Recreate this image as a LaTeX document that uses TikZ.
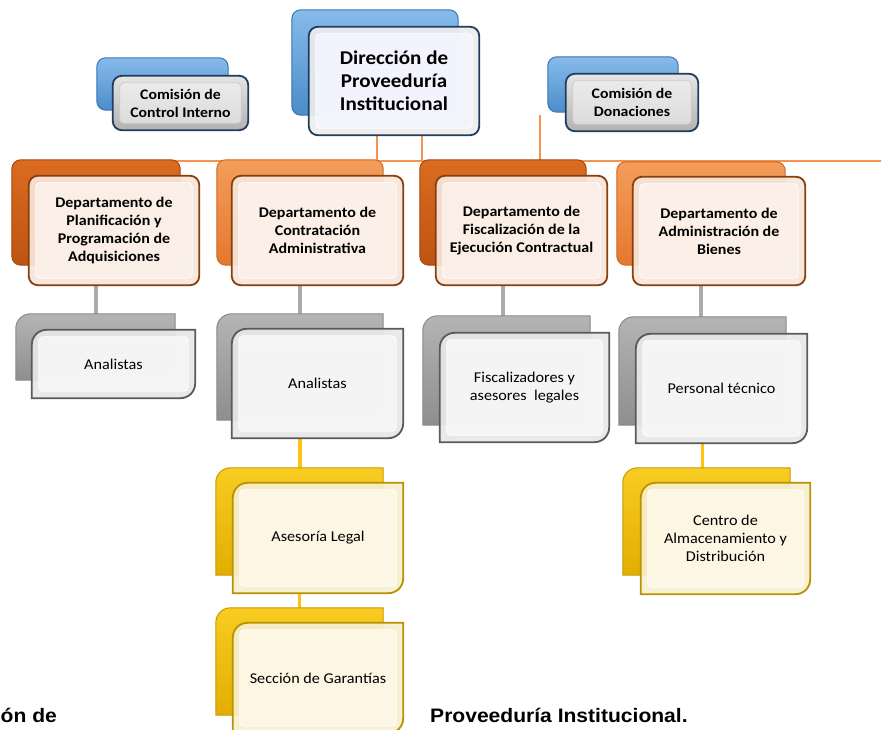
\documentclass[tikz,border=0pt]{standalone}
\usepackage{fontspec}
\setmainfont{Carlito}[FakeStretch=1.08]
\newfontfamily\arialfont{Liberation Sans}[FakeStretch=1.08]
\usetikzlibrary{calc}
\pgfdeclarelayer{bglayer}
\pgfdeclarelayer{lineslayer}
\pgfdeclarelayer{backlayer}
\pgfdeclarelayer{frontlayer}
\pgfsetlayers{bglayer,lineslayer,backlayer,frontlayer,main}

\definecolor{blueT}{HTML}{86BBEA}
\definecolor{blueB}{HTML}{4B8CCB}
\definecolor{blueD}{HTML}{3A74AE}
\definecolor{navy}{HTML}{213D5E}
\definecolor{orDT}{HTML}{DB6B20}
\definecolor{orDB}{HTML}{BD5412}
\definecolor{orDD}{HTML}{A4470D}
\definecolor{orLT}{HTML}{F49D5A}
\definecolor{orLB}{HTML}{E47830}
\definecolor{orLD}{HTML}{CF6824}
\definecolor{brown}{HTML}{85400F}
\definecolor{orline}{HTML}{F5934F}
\definecolor{gyT}{HTML}{B4B4B4}
\definecolor{gyB}{HTML}{8E8E8E}
\definecolor{gyD}{HTML}{8A8A8A}
\definecolor{gyEdge}{HTML}{5A5A5A}
\definecolor{gyline}{HTML}{ABABAB}
\definecolor{ylT}{HTML}{F8CC22}
\definecolor{ylB}{HTML}{E2AE00}
\definecolor{ylD}{HTML}{C99A00}
\definecolor{ylEdge}{HTML}{B89200}
\definecolor{ylline}{HTML}{FFC20E}
\definecolor{orFill}{HTML}{F8E6DA}
\definecolor{orIn}{HTML}{FCF1EA}
\definecolor{ylFill}{HTML}{F7EFCF}
\definecolor{ylIn}{HTML}{FDF8E6}

\newcommand\roundpath[2]{\path[rounded corners=9pt,#2] (#1.south west) rectangle (#1.north east);}
\newcommand\diagpath[2]{\path[#2] (#1.south west) -- ($(#1.north west)+(0,15)$) .. controls ($(#1.north west)+(0,6.5)$) and ($(#1.north west)+(6.5,0)$) .. ($(#1.north west)+(15,0)$) -- (#1.north east) -- ($(#1.south east)+(0,-15)$) .. controls ($(#1.south east)+(0,-6.5)$) and ($(#1.south east)+(-6.5,0)$) .. ($(#1.south east)+(-15,0)$) -- cycle;}
\newcommand\bevelpath[2]{\path[rounded corners=4pt,#2] ($(#1.south west)+(7,-7)$) rectangle ($(#1.north east)+(-7,7)$);}

\begin{document}
\begin{tikzpicture}[x=1pt,y=-1pt,
  bx/.style 2 args={minimum width=#1pt, minimum height=#2pt, inner sep=0pt, align=center, text=black},
  deptfont/.style={font=\fontsize{14.8}{18}\selectfont\bfseries},
  comfont/.style={font=\fontsize{14.6}{18}\selectfont\bfseries},
  regfont/.style={font=\fontsize{15}{18}\selectfont},
  blueback/.style={top color=blueT, bottom color=blueB, draw=blueD, line width=1pt},
  mainfront/.style={fill=black!7, draw=navy, line width=1.8pt, fill opacity=0.92},
  mainbevel/.style={fill=white!96!blue, draw=white, line width=0.8pt, fill opacity=0.92},
  comfront/.style={top color=black!10, bottom color=black!30, draw=navy, line width=1.8pt},
  combevel/.style={top color=black!8, bottom color=black!14, draw=white!80!black, line width=0.8pt},
  ordark/.style={top color=orDT, bottom color=orDB, draw=orDD, line width=1pt},
  orlight/.style={top color=orLT, bottom color=orLB, draw=orLD, line width=1pt},
  orfront/.style={fill=orFill, draw=brown, line width=1.8pt, fill opacity=0.92},
  orbevel/.style={fill=orIn, draw=white, line width=0.8pt, fill opacity=0.9},
  gyback/.style={top color=gyT, bottom color=gyB, draw=gyD, line width=1pt},
  gyfront/.style={fill=black!9, draw=gyEdge, line width=1.8pt, fill opacity=0.92},
  gybevel/.style={fill=black!3, draw=white, line width=0.8pt, fill opacity=0.9},
  ylback/.style={top color=ylT, bottom color=ylB, draw=ylD, line width=1pt},
  ylfront/.style={fill=ylFill, draw=ylEdge, line width=1.8pt, fill opacity=0.92},
  ylbevel/.style={fill=ylIn, draw=white, line width=0.8pt, fill opacity=0.9},
  oline/.style={draw=orline, line width=2.3pt},
  gline/.style={draw=gyline, line width=3.2pt},
  yline/.style={draw=ylline, line width=3.2pt},
  foot/.style={font=\arialfont\fontsize{19.5}{22}\selectfont\bfseries, inner sep=0pt, anchor=base west}
]
\useasboundingbox (0,0) rectangle (881,730);
\begin{pgfonlayer}{bglayer}\fill[white] (0,0) rectangle (881,730);\end{pgfonlayer}

% ---------- main ----------
\node[bx={166}{105}] (mainB) at (375,62.5) {};
\node[bx={170}{108}, font=\fontsize{19.5}{23}\selectfont\bfseries] (mainF) at (394,81) {Dirección de\\Proveeduría\\Institucional};
\begin{pgfonlayer}{backlayer}\roundpath{mainB}{blueback}\end{pgfonlayer}
\begin{pgfonlayer}{frontlayer}\roundpath{mainF}{mainfront}\bevelpath{mainF}{mainbevel}\end{pgfonlayer}

% ---------- commissions ----------
\node[bx={131}{52}] (ciB) at (162.5,84) {};
\node[bx={135}{54}, comfont] (ciF) at (180.5,103) {Comisión de\\Control Interno};
\node[bx={130}{55}] (donB) at (613,84.5) {};
\node[bx={132}{57}, comfont] (donF) at (632,102.5) {Comisión de\\Donaciones};
\begin{pgfonlayer}{backlayer}\roundpath{ciB}{blueback}\roundpath{donB}{blueback}\end{pgfonlayer}
\begin{pgfonlayer}{frontlayer}\roundpath{ciF}{comfront}\bevelpath{ciF}{combevel}\roundpath{donF}{comfront}\bevelpath{donF}{combevel}\end{pgfonlayer}

% ---------- departments ----------
\node[bx={168}{105}] (d1B) at (96,212.5) {};
\node[bx={170}{109}, deptfont] (d1F) at (114,230.5) {Departamento de\\Planificación y\\Programación de\\Adquisiciones};
\node[bx={166}{105}] (d2B) at (300,212.5) {};
\node[bx={171}{109}, deptfont] (d2F) at (317.5,230.5) {Departamento de\\Contratación\\Administrativa};
\node[bx={166}{105}] (d3B) at (503,212.5) {};
\node[bx={171}{109}, deptfont] (d3F) at (521.5,230.5) {Departamento de\\Fiscalización de la\\Ejecución Contractual};
\node[bx={168}{103}] (d4B) at (701,213.5) {};
\node[bx={172}{108}, deptfont] (d4F) at (719,231) {Departamento de\\Administración de\\Bienes};
\begin{pgfonlayer}{backlayer}
\roundpath{d1B}{ordark}\roundpath{d2B}{orlight}\roundpath{d3B}{ordark}\roundpath{d4B}{orlight}
\end{pgfonlayer}
\begin{pgfonlayer}{frontlayer}
\roundpath{d1F}{orfront}\bevelpath{d1F}{orbevel}
\roundpath{d2F}{orfront}\bevelpath{d2F}{orbevel}
\roundpath{d3F}{orfront}\bevelpath{d3F}{orbevel}
\roundpath{d4F}{orfront}\bevelpath{d4F}{orbevel}
\end{pgfonlayer}

% ---------- gray level ----------
\node[bx={159}{66}] (g1B) at (95.5,347) {};
\node[bx={163}{68}, regfont] (g1F) at (113.5,364) {Analistas};
\node[bx={166}{106}] (g2B) at (300,367) {};
\node[bx={171}{109}, regfont] (g2F) at (317.5,383.5) {Analistas};
\node[bx={167}{109}] (g3B) at (506.5,370.5) {};
\node[bx={169}{109}, regfont] (g3F) at (524.5,387.5) {Fiscalizadores y\\asesores\ \ legales};
\node[bx={167}{108}] (g4B) at (702.5,371) {};
\node[bx={171}{109}, regfont] (g4F) at (721.5,388.5) {Personal técnico};
\begin{pgfonlayer}{backlayer}
\diagpath{g1B}{gyback}\diagpath{g2B}{gyback}\diagpath{g3B}{gyback}\diagpath{g4B}{gyback}
\end{pgfonlayer}
\begin{pgfonlayer}{frontlayer}
\diagpath{g1F}{gyfront}\bevelpath{g1F}{gybevel}
\diagpath{g2F}{gyfront}\bevelpath{g2F}{gybevel}
\diagpath{g3F}{gyfront}\bevelpath{g3F}{gybevel}
\diagpath{g4F}{gyfront}\bevelpath{g4F}{gybevel}
\end{pgfonlayer}

% ---------- yellow level ----------
\node[bx={167}{107}] (y1B) at (299.5,521.5) {};
\node[bx={170}{110}, regfont] (y1F) at (318,538) {Asesoría Legal};
\node[bx={167}{107}] (y2B) at (299.5,661.5) {};
\node[bx={170}{110}, regfont] (y2F) at (318,678) {Sección de Garantías};
\node[bx={167}{107}] (y3B) at (706.5,521.5) {};
\node[bx={169}{111}, regfont] (y3F) at (725.5,538.5) {Centro de\\Almacenamiento y\\Distribución};
\begin{pgfonlayer}{backlayer}
\diagpath{y1B}{ylback}\diagpath{y2B}{ylback}\diagpath{y3B}{ylback}
\end{pgfonlayer}
\begin{pgfonlayer}{frontlayer}
\diagpath{y1F}{ylfront}\bevelpath{y1F}{ylbevel}
\diagpath{y2F}{ylfront}\bevelpath{y2F}{ylbevel}
\diagpath{y3F}{ylfront}\bevelpath{y3F}{ylbevel}
\end{pgfonlayer}

% ---------- connectors ----------
\coordinate (hL) at (60,161);
\coordinate (hR) at (881,161);
\begin{pgfonlayer}{lineslayer}
\draw[oline] ($(mainF.south)+(-17,0)$) -- ($(mainF.south)+(-17,26)$);
\draw[oline] ($(mainF.south)+(28,0)$) -- ($(mainF.south)+(28,26)$);
\draw[oline] (hL) -- (hR);
\draw[oline] ($(donB.south west)+(-8,3)$) -- ($(donB.south west)+(-8,49)$);
\draw[gline] (d1B.south |- d1F.south) -- (d1B.south |- g1B.north);
\draw[gline] (d2B.south |- d2F.south) -- (d2B.south |- g2B.north);
\draw[gline] (d3B.south |- d3F.south) -- (d3B.south |- g3B.north);
\draw[gline] (d4B.south |- d4F.south) -- (d4B.south |- g4B.north);
\draw[yline] (g2B.south |- g2F.south) -- (g2B.south |- y1B.north);
\draw[yline] (y1B.south |- y1F.south) -- (y1B.south |- y2B.north);
\draw[yline] (g4B.south |- g4F.south) -- (g4B.south |- y3B.north);
\end{pgfonlayer}

% ---------- footer text ----------
\node[foot] (ftL) at (0.5,722) {ón de};
\node[foot] (ftR) at (430,722) {Proveeduría Institucional.};
\end{tikzpicture}
\end{document}
